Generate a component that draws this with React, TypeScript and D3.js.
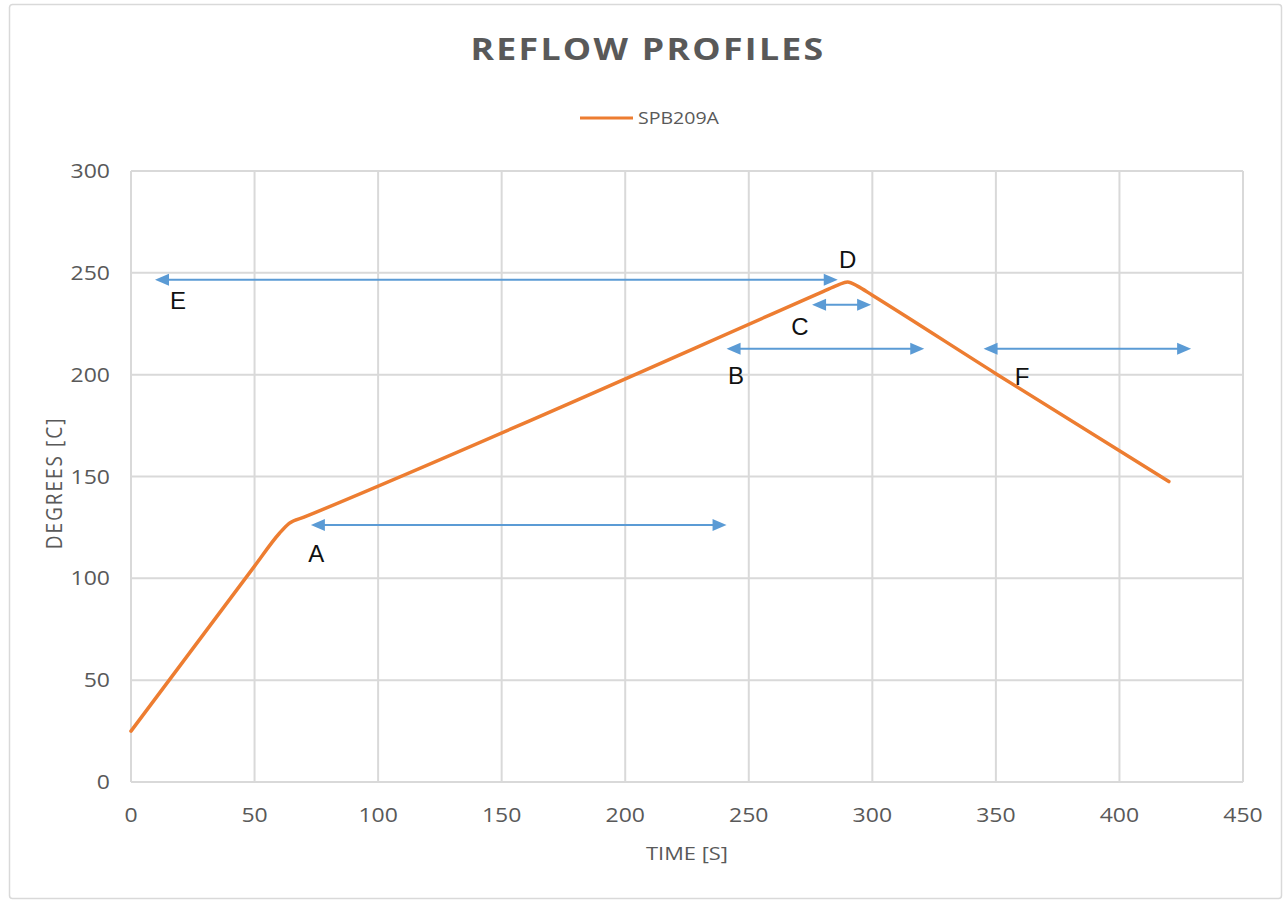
import React, { useEffect, useRef } from "react";
import * as d3 from "d3";

// reflow profile (time s, temperature C)
const timeSec = [0, 50, 60, 64, 70, 280, 286, 290, 294, 300, 350, 420];
const tempC = [25, 106, 122, 127, 130, 240.8, 244, 245.5, 243.5, 239, 200.5, 147.5];

const xTicks = [0, 50, 100, 150, 200, 250, 300, 350, 400, 450];
const yTicks = [0, 50, 100, 150, 200, 250, 300];

// zone arrows: from time, to time, temperature
const zoneFrom = [9.7, 72.8, 275.6, 241, 345];
const zoneTo = [286, 241, 299.5, 321, 429];
const zoneTemp = [246.6, 126.2, 234.3, 212.7, 212.7];

// letter labels (time, temperature of baseline)
const letterText = ["E", "A", "D", "C", "B", "F"];
const letterX = [19, 75, 290, 270.7, 244.8, 360.6];
const letterY = [232.3, 108, 252.5, 219.5, 195.5, 195];

const W = 1285;
const H = 901;
const SX = 1.15; // the reference text is a little wide

export default function App() {
  const ref = useRef<SVGSVGElement>(null);

  useEffect(() => {
    const svg = d3.select(ref.current);
    svg.selectAll("*").remove();

    const font = "'Open Sans', 'DejaVu Sans', sans-serif";
    const grey = "#595959";
    const gridColor = "#d9d9d9";
    const orange = "#ed7d31";
    const blue = "#5b9bd5";

    svg
      .append("rect")
      .attr("x", 9.5)
      .attr("y", 4.5)
      .attr("width", 1272)
      .attr("height", 894)
      .attr("rx", 3)
      .attr("fill", "#fff")
      .attr("stroke", gridColor)
      .attr("stroke-width", 1.5);

    const x = d3.scaleLinear().domain([0, 450]).range([131, 1243]);
    const y = d3.scaleLinear().domain([0, 300]).range([782, 171]);

    const grid = svg.append("g").attr("stroke", gridColor).attr("stroke-width", 2);
    grid
      .selectAll("line.h")
      .data(yTicks)
      .join("line")
      .attr("class", "h")
      .attr("x1", x(0))
      .attr("x2", x(450))
      .attr("y1", (d) => y(d))
      .attr("y2", (d) => y(d));
    grid
      .selectAll("line.v")
      .data(xTicks)
      .join("line")
      .attr("class", "v")
      .attr("x1", (d) => x(d))
      .attr("x2", (d) => x(d))
      .attr("y1", y(0))
      .attr("y2", y(300));

    svg
      .append("g")
      .selectAll("text")
      .data(yTicks)
      .join("text")
      .attr("transform", (d) => `translate(110,${y(d) + 7}) scale(${SX},1)`)
      .attr("text-anchor", "end")
      .attr("font-family", font)
      .attr("font-size", 20)
      .attr("fill", grey)
      .text((d) => d);

    svg
      .append("g")
      .selectAll("text")
      .data(xTicks)
      .join("text")
      .attr("transform", (d) => `translate(${x(d)},822) scale(${SX},1)`)
      .attr("text-anchor", "middle")
      .attr("font-family", font)
      .attr("font-size", 20)
      .attr("fill", grey)
      .text((d) => d);

    svg
      .append("text")
      .attr("transform", `translate(687,860) scale(${SX},1)`)
      .attr("text-anchor", "middle")
      .attr("font-family", font)
      .attr("font-size", 19)
      .attr("fill", grey)
      .text("TIME [S]");

    svg
      .append("text")
      .attr("transform", `translate(62,483) scale(${SX},1) rotate(-90)`)
      .attr("text-anchor", "middle")
      .attr("font-family", font)
      .attr("font-size", 19)
      .attr("letter-spacing", 2)
      .attr("fill", grey)
      .text("DEGREES [C]");

    svg
      .append("text")
      .attr("transform", `translate(648,59.5) scale(${SX},1)`)
      .attr("text-anchor", "middle")
      .attr("font-family", font)
      .attr("font-weight", "bold")
      .attr("font-size", 31)
      .attr("letter-spacing", 2)
      .attr("fill", grey)
      .text("REFLOW PROFILES");

    svg
      .append("line")
      .attr("x1", 580)
      .attr("x2", 633)
      .attr("y1", 118)
      .attr("y2", 118)
      .attr("stroke", orange)
      .attr("stroke-width", 3);
    svg
      .append("text")
      .attr("transform", `translate(638,124) scale(${SX},1)`)
      .attr("font-family", font)
      .attr("font-size", 17)
      .attr("fill", grey)
      .text("SPB209A");

    const points = timeSec.map((t, i) => [t, tempC[i]] as [number, number]);
    const line = d3
      .line<[number, number]>()
      .x((d) => x(d[0]))
      .y((d) => y(d[1]))
      .curve(d3.curveMonotoneX);

    svg
      .append("path")
      .attr("d", line(points))
      .attr("fill", "none")
      .attr("stroke", orange)
      .attr("stroke-width", 3.5)
      .attr("stroke-linejoin", "round")
      .attr("stroke-linecap", "round");

    // double-headed arrows
    const headLen = 14;
    const headHalf = 6;
    const arrows = svg.append("g");
    zoneFrom.forEach((_, i) => {
      const x1 = x(zoneFrom[i]);
      const x2 = x(zoneTo[i]);
      const yy = y(zoneTemp[i]);
      arrows
        .append("line")
        .attr("x1", x1 + headLen - 2)
        .attr("x2", x2 - headLen + 2)
        .attr("y1", yy)
        .attr("y2", yy)
        .attr("stroke", blue)
        .attr("stroke-width", 2);
      arrows
        .append("path")
        .attr(
          "d",
          `M${x1},${yy}L${x1 + headLen},${yy - headHalf}L${x1 + headLen},${yy + headHalf}Z`
        )
        .attr("fill", blue);
      arrows
        .append("path")
        .attr(
          "d",
          `M${x2},${yy}L${x2 - headLen},${yy - headHalf}L${x2 - headLen},${yy + headHalf}Z`
        )
        .attr("fill", blue);
    });

    svg
      .append("g")
      .selectAll("text")
      .data(letterText)
      .join("text")
      .attr("x", (_, i) => x(letterX[i]))
      .attr("y", (_, i) => y(letterY[i]))
      .attr("text-anchor", "middle")
      .attr("font-family", "'Liberation Sans', 'DejaVu Sans', sans-serif")
      .attr("font-size", 24)
      .attr("fill", "#111")
      .text((d) => d);
  }, []);

  return (
    <svg
      ref={ref}
      width={W}
      height={H}
      style={{ position: "absolute", left: 0, top: 0, background: "#fff" }}
    />
  );
}
